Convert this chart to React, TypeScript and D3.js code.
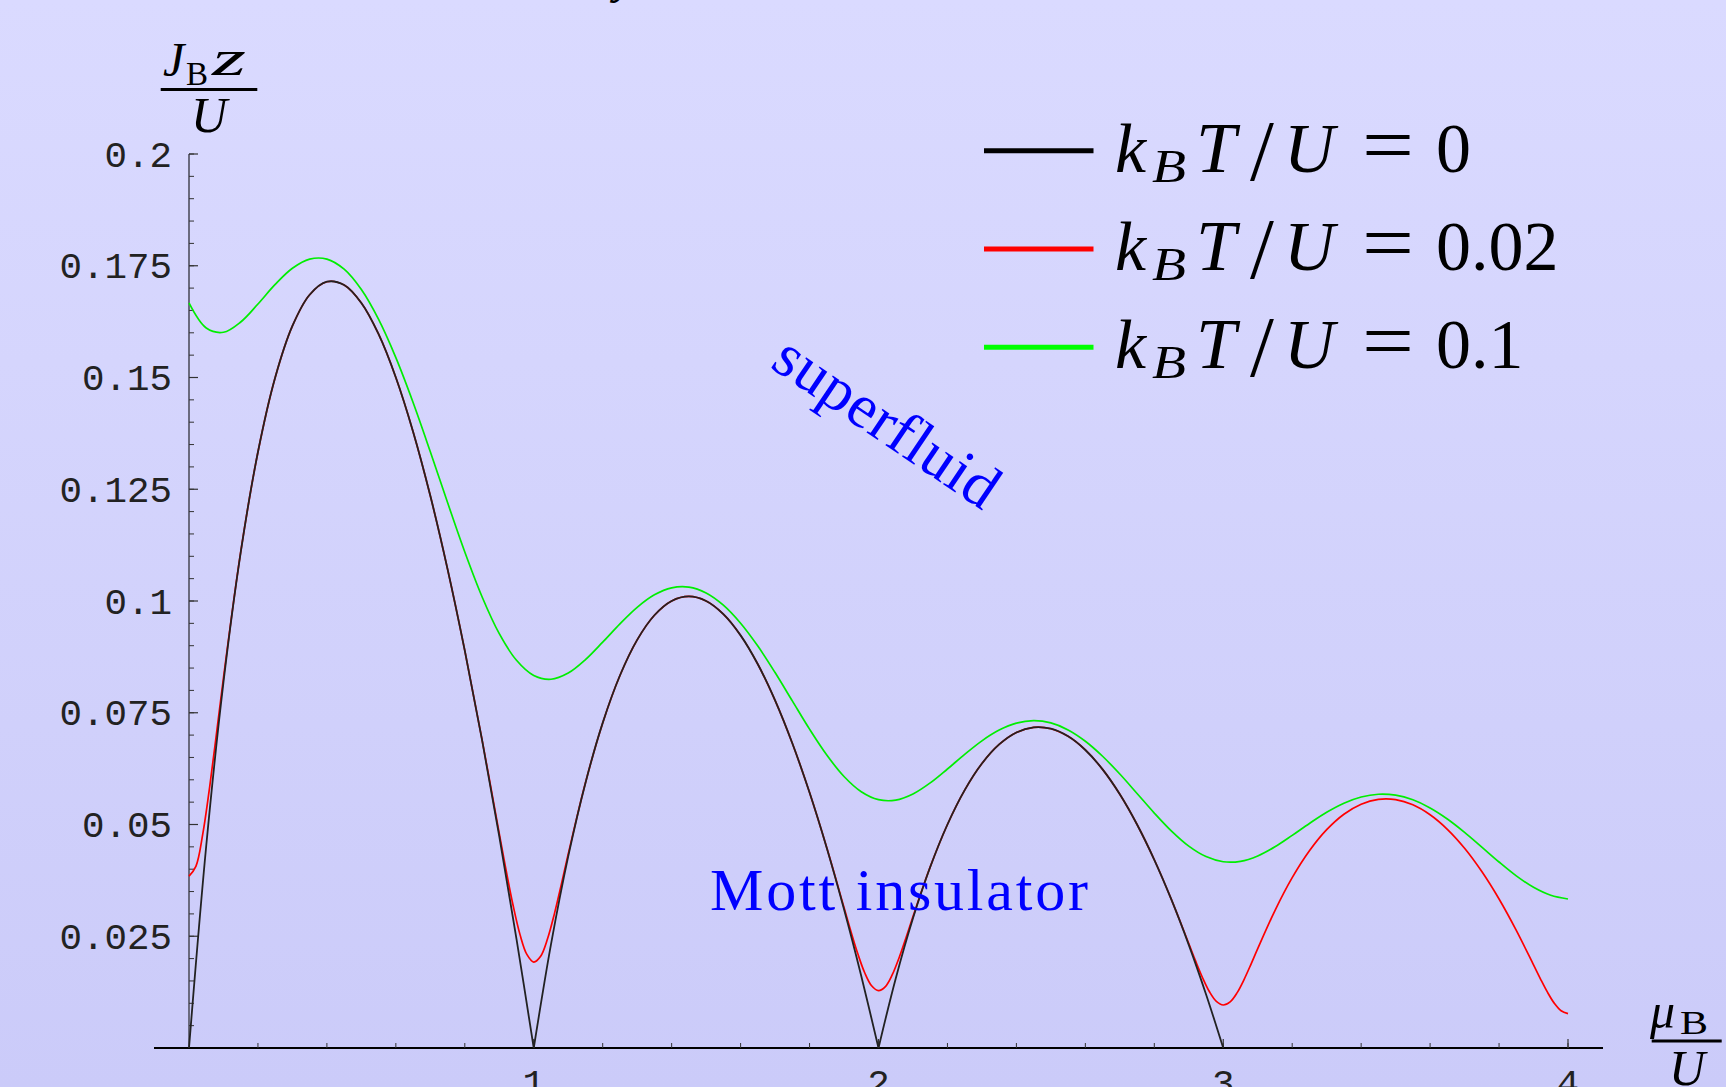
import React from "react";
import * as d3 from "d3";

// ---------- data ----------
const blackMu = [
  0, 0.05, 0.1, 0.15, 0.2, 0.25, 0.3, 0.35, 0.4, 0.45, 0.5, 0.55, 0.6, 0.65, 0.7, 0.75, 0.8, 0.85, 0.9, 0.95,
  1, 1.05, 1.1, 1.15, 1.2, 1.25, 1.3, 1.35, 1.4, 1.45, 1.5, 1.55, 1.6, 1.65, 1.7, 1.75, 1.8, 1.85, 1.9, 1.95,
  2, 2.05, 2.1, 2.15, 2.2, 2.25, 2.3, 2.35, 2.4, 2.45, 2.5, 2.55, 2.6, 2.65, 2.7, 2.75, 2.8, 2.85, 2.9, 2.95, 3,
];
const blackJ = [
  0, 0.04524, 0.08182, 0.11087, 0.13333, 0.15, 0.16154, 0.16852, 0.17143, 0.17069, 0.16667, 0.15968, 0.15, 0.13788, 0.12353, 0.10714, 0.08889, 0.06892, 0.04737, 0.02436,
  0, 0.02317, 0.04286, 0.0593, 0.07273, 0.08333, 0.0913, 0.09681, 0.1, 0.10102, 0.1, 0.09706, 0.09231, 0.08585, 0.07778, 0.06818, 0.05714, 0.04474, 0.03103, 0.0161,
  0, 0.01557, 0.02903, 0.04048, 0.05, 0.05769, 0.06364, 0.06791, 0.07059, 0.07174, 0.07143, 0.06972, 0.06667, 0.06233, 0.05676, 0.05, 0.04211, 0.03312, 0.02308, 0.01203, 0,
];

const redMu = [
  0, 0.02, 0.04, 0.06, 0.08, 0.1, 0.15, 0.2, 0.25, 0.3, 0.35, 0.4, 0.45, 0.5, 0.55, 0.6, 0.65, 0.7, 0.75, 0.8, 0.85, 0.9, 0.92, 0.94, 0.96, 0.98,
  1, 1.02, 1.04, 1.06, 1.08, 1.1, 1.15, 1.2, 1.25, 1.3, 1.35, 1.4, 1.45, 1.5, 1.55, 1.6, 1.65, 1.7, 1.75, 1.8, 1.85, 1.9, 1.92, 1.94, 1.96, 1.98,
  2, 2.02, 2.04, 2.06, 2.08, 2.1, 2.15, 2.2, 2.25, 2.3, 2.35, 2.4, 2.45, 2.5, 2.55, 2.6, 2.65, 2.7, 2.75, 2.8, 2.85, 2.9, 2.92, 2.94, 2.96, 2.98,
  3, 3.02, 3.04, 3.06, 3.08, 3.1, 3.15, 3.2, 3.25, 3.3, 3.35, 3.4, 3.45, 3.5, 3.55, 3.6, 3.65, 3.7, 3.75, 3.8, 3.85, 3.9, 3.92, 3.94, 3.96, 3.98, 4,
];
const redJ = [
  0.03846, 0.04065, 0.0479, 0.05844, 0.0705, 0.08282, 0.11098, 0.13333, 0.15, 0.16154, 0.16852, 0.17143, 0.17069, 0.16667, 0.15968, 0.15, 0.13788, 0.12353, 0.10714, 0.08889, 0.06899, 0.04795, 0.03966, 0.03193, 0.02542, 0.02094,
  0.01923, 0.02053, 0.02442, 0.03007, 0.03661, 0.04339, 0.05935, 0.07273, 0.08333, 0.0913, 0.09681, 0.1, 0.10102, 0.1, 0.09706, 0.09231, 0.08585, 0.07778, 0.06818, 0.05714, 0.04478, 0.03142, 0.02608, 0.02107, 0.01683, 0.01392,
  0.01282, 0.01373, 0.01639, 0.02024, 0.02472, 0.02939, 0.04051, 0.05, 0.05769, 0.06364, 0.06791, 0.07059, 0.07174, 0.07143, 0.06972, 0.06667, 0.06233, 0.05676, 0.05, 0.04211, 0.03315, 0.02336, 0.01942, 0.01572, 0.01258, 0.01042,
  0.00962, 0.01032, 0.01233, 0.01526, 0.01866, 0.02222, 0.03075, 0.0381, 0.04412, 0.04884, 0.0523, 0.05455, 0.05562, 0.05556, 0.0544, 0.05217, 0.04892, 0.04468, 0.03947, 0.03333, 0.02631, 0.01859, 0.01548, 0.01254, 0.01004, 0.00833, 0.00769,
];

const greenMu = [
  0, 0.05, 0.1, 0.15, 0.2, 0.25, 0.3, 0.35, 0.4, 0.45, 0.5, 0.55, 0.6, 0.65, 0.7, 0.75, 0.8, 0.85, 0.9, 0.95,
  1, 1.05, 1.1, 1.15, 1.2, 1.25, 1.3, 1.35, 1.4, 1.45, 1.5, 1.55, 1.6, 1.65, 1.7, 1.75, 1.8, 1.85, 1.9, 1.95,
  2, 2.05, 2.1, 2.15, 2.2, 2.25, 2.3, 2.35, 2.4, 2.45, 2.5, 2.55, 2.6, 2.65, 2.7, 2.75, 2.8, 2.85, 2.9, 2.95,
  3, 3.05, 3.1, 3.15, 3.2, 3.25, 3.3, 3.35, 3.4, 3.45, 3.5, 3.55, 3.6, 3.65, 3.7, 3.75, 3.8, 3.85, 3.9, 3.95, 4,
];
const greenJ = [
  0.16667, 0.16107, 0.16012, 0.16242, 0.16645, 0.17082, 0.17443, 0.17648, 0.17649, 0.17423, 0.16967, 0.16298, 0.15443, 0.1444, 0.13339, 0.12202, 0.11096, 0.10096, 0.0927, 0.08673,
  0.08333, 0.0825, 0.08387, 0.08688, 0.09079, 0.0949, 0.09859, 0.10138, 0.10295, 0.10311, 0.10181, 0.09907, 0.09503, 0.08991, 0.08399, 0.07765, 0.07133, 0.06554, 0.06074, 0.05733,
  0.05556, 0.05545, 0.05682, 0.0593, 0.06242, 0.0657, 0.06872, 0.07112, 0.07267, 0.07322, 0.07272, 0.07116, 0.06863, 0.06527, 0.06129, 0.05694, 0.05256, 0.04852, 0.04516, 0.04282,
  0.04167, 0.04176, 0.04296, 0.04501, 0.04756, 0.05024, 0.05274, 0.05477, 0.05616, 0.05677, 0.05656, 0.05552, 0.05371, 0.05124, 0.04825, 0.04495, 0.04161, 0.03851, 0.03595, 0.03417, 0.03333,
];

const yTickValues = [0.025, 0.05, 0.075, 0.1, 0.125, 0.15, 0.175, 0.2];
const yTickLabels = ["0.025", "0.05", "0.075", "0.1", "0.125", "0.15", "0.175", "0.2"];
const xTickValues = [1, 2, 3, 4];
const xTickLabels = ["1", "2", "3", "4"];

const legendValues = ["0", "0.02", "0.1"];
const legendColors = ["#000000", "#ff0000", "#00ff00"];

// ---------- layout ----------
const W = 1726;
const H = 1087;
const MATH = "'Liberation Serif', 'DejaVu Serif', serif";
const MONO = "'Liberation Mono', 'DejaVu Sans Mono', monospace";

export default function App() {
  const x = d3.scaleLinear().domain([0, 4]).range([189, 1568]);
  const y = d3.scaleLinear().domain([0, 0.2]).range([1048, 154]);

  const line = d3
    .line<[number, number]>()
    .x((d) => x(d[0]))
    .y((d) => y(d[1]))
    .curve(d3.curveCatmullRom.alpha(0.5));

  const zip = (a: number[], b: number[]) => a.map((v, i) => [v, b[i]] as [number, number]);

  // black (T=0) is drawn lobe by lobe so that the zeros stay sharp cusps
  const blackPts = zip(blackMu, blackJ);
  const blackSegs: [number, number][][] = [];
  let cur: [number, number][] = [];
  blackPts.forEach((p, i) => {
    cur.push(p);
    if (i > 0 && p[1] === 0) {
      blackSegs.push(cur);
      cur = [p];
    }
  });
  if (cur.length > 1) blackSegs.push(cur);

  const redPts = zip(redMu, redJ);
  const greenPts = zip(greenMu, greenJ);

  const yMinor = d3.range(0.005, 0.2001, 0.005);
  const xMinor = d3.range(0.2, 4.001, 0.2);

  const legendBase = [171.7, 270, 368.3];

  return (
    <svg
      width={W}
      height={H}
      viewBox={`0 0 ${W} ${H}`}
      style={{ position: "absolute", left: 0, top: 0, display: "block" }}
    >
      <defs>
        <linearGradient id="bg" x1="0" y1="0" x2="0" y2="1">
          <stop offset="0" stopColor="#dadaff" />
          <stop offset="1" stopColor="#cbcbf9" />
        </linearGradient>
      </defs>
      <rect x={0} y={0} width={W} height={H} fill="url(#bg)" />

      {/* cut-off title descender at top */}
      <text x={614} y={-7} fontFamily={MATH} fontStyle="italic" fontSize={48} fill="#000">
        y
      </text>

      {/* y axis */}
      <line x1={x(0)} x2={x(0)} y1={y(0)} y2={y(0.2)} stroke="#6a6a7e" strokeWidth={2} />
      {yMinor.map((v, i) => (
        <line key={"ym" + i} x1={x(0)} x2={x(0) + 5} y1={y(v)} y2={y(v)} stroke="#333" strokeWidth={1} />
      ))}
      {yTickValues.map((v, i) => (
        <g key={"yt" + i}>
          <line x1={x(0)} x2={x(0) + 9} y1={y(v)} y2={y(v)} stroke="#333" strokeWidth={1.2} />
          <text
            x={172}
            y={y(v) + 12.5}
            textAnchor="end"
            fontFamily={MONO}
            fontSize={37.5}
            fill="#222"
          >
            {yTickLabels[i]}
          </text>
        </g>
      ))}

      {/* x axis */}
      <line x1={154} x2={1603} y1={y(0)} y2={y(0)} stroke="#000" strokeWidth={1.8} />
      {xMinor.map((v, i) => (
        <line key={"xm" + i} x1={x(v)} x2={x(v)} y1={y(0)} y2={y(0) - 5} stroke="#333" strokeWidth={1} />
      ))}
      {xTickValues.map((v, i) => (
        <g key={"xt" + i}>
          <line x1={x(v)} x2={x(v)} y1={y(0)} y2={y(0) - 9} stroke="#333" strokeWidth={1.2} />
          <text x={x(v)} y={1095} textAnchor="middle" fontFamily={MONO} fontSize={37.5} fill="#222">
            {xTickLabels[i]}
          </text>
        </g>
      ))}

      {/* curves */}
      <path d={line(greenPts) || ""} fill="none" stroke="#00ee00" strokeWidth={1.7} />
      <path d={line(redPts) || ""} fill="none" stroke="#ff0000" strokeWidth={1.7} />
      {blackSegs.map((s, i) => (
        <path key={"b" + i} d={line(s) || ""} fill="none" stroke="#222" strokeWidth={1.8} />
      ))}

      {/* y axis label J_B z / U */}
      <text x={163} y={76} fontFamily={MATH} fontStyle="italic" fontSize={48} fill="#000">
        J
      </text>
      <text x={186} y={85} fontFamily={MATH} fontSize={33} fill="#000">
        B
      </text>
      <text
        x={212}
        y={75}
        fontFamily={MATH}
        fontStyle="italic"
        fontSize={50}
        fill="#000"
        textLength={34}
        lengthAdjust="spacingAndGlyphs"
      >
        z
      </text>
      <rect x={160.7} y={88} width={96.6} height={3} fill="#000" />
      <text x={209} y={131.7} textAnchor="middle" fontFamily={MATH} fontStyle="italic" fontSize={50} fill="#000">
        U
      </text>

      {/* x axis label mu_B / U */}
      <text x={1650} y={1028} fontFamily={MATH} fontStyle="italic" fontSize={50} fill="#000">
        μ
      </text>
      <text
        x={1680}
        y={1034}
        fontFamily={MATH}
        fontSize={34}
        fill="#000"
        textLength={28}
        lengthAdjust="spacingAndGlyphs"
      >
        B
      </text>
      <rect x={1651.7} y={1039.5} width={70} height={3} fill="#000" />
      <text x={1687} y={1085} textAnchor="middle" fontFamily={MATH} fontStyle="italic" fontSize={50} fill="#000">
        U
      </text>

      {/* legend */}
      {legendValues.map((val, i) => {
        const b = legendBase[i];
        return (
          <g key={"lg" + i}>
            <line x1={984} x2={1093.5} y1={b - 21} y2={b - 21} stroke={legendColors[i]} strokeWidth={5} />
            <text x={1115} y={b} fontFamily={MATH} fontStyle="italic" fontSize={70} fill="#000">
              k
            </text>
            <text
              x={1152}
              y={b + 10}
              fontFamily={MATH}
              fontStyle="italic"
              fontSize={47}
              fill="#000"
              textLength={34}
              lengthAdjust="spacingAndGlyphs"
            >
              B
            </text>
            <text x={1196} y={b} fontFamily={MATH} fontStyle="italic" fontSize={72} fill="#000">
              T
            </text>
            <text x={1250} y={b + 8} fontFamily={MATH} fontSize={86} fill="#000">
              /
            </text>
            <text x={1284} y={b} fontFamily={MATH} fontStyle="italic" fontSize={70} fill="#000">
              U
            </text>
            <text
              x={1362}
              y={b}
              fontFamily={MATH}
              fontSize={80}
              fill="#000"
              textLength={52}
              lengthAdjust="spacingAndGlyphs"
            >
              =
            </text>
            <text x={1436} y={b} fontFamily={MATH} fontSize={70} fill="#000">
              {val}
            </text>
          </g>
        );
      })}

      {/* region annotations */}
      <g transform="translate(883,428) rotate(34)">
        <text
          x={0}
          y={13}
          textAnchor="middle"
          fontFamily={MATH}
          fontSize={62}
          fill="#0000ff"
          textLength={258}
        >
          superfluid
        </text>
      </g>
      <text x={710} y={910} fontFamily={MATH} fontSize={60} fill="#0000ff" textLength={378}>
        Mott insulator
      </text>
    </svg>
  );
}
